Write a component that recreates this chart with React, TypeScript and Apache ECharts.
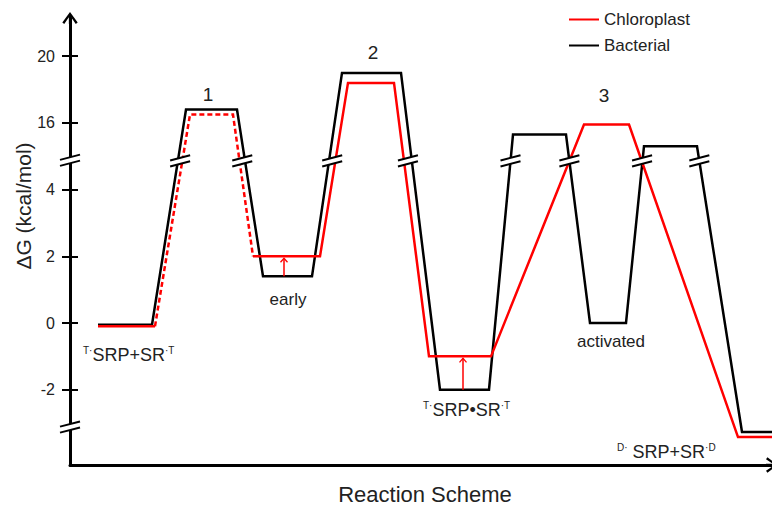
import React, { useEffect, useRef } from 'react';
import * as echarts from 'echarts';

// ---- data (ΔG in kcal/mol, x = reaction coordinate, arbitrary units) ----
const Y_TICKS = [-2, 0, 2, 4, 16, 20];

const BAC_X = [28, 82, 116, 167, 193, 242, 272, 331, 370, 419, 443, 496, 520, 556, 574, 627, 672, 702];
const BAC_V = [-0.05, -0.05, 16.8, 16.8, 1.4, 1.4, 19.0, 19.0, -2.0, -2.0, 15.3, 15.3, 0, 0, 14.6, 14.6, -3.27, -3.27];

const CHL_X = [28, 85, 120, 163, 183, 250, 278, 324, 359, 421, 514, 559, 668, 702];
const CHL_V = [-0.1, -0.1, 16.5, 16.5, 2.0, 2.0, 18.4, 18.4, -1.0, -1.0, 15.9, 15.9, -3.42, -3.42];
const CHL_DASHED_FROM = 1;
const CHL_DASHED_TO = 4;

const ARROW_X = [214, 393];
const ARROW_FROM = [1.4, -2.0];
const ARROW_TO = [2.0, -1.0];

// axis-break levels, in broken-axis units
const BREAK_LINES = 2.43;
const BREAK_AXIS = [2.44, -1.56];

const RED = '#ff0000';
const BLACK = '#000000';
const TEXT = '#222222';
const FONT = 'Liberation Sans, Arial, Helvetica, sans-serif';

// broken axis: [-inf,4] at 2 kcal per unit, [16,inf] at 4 kcal per unit
const toAxis = (v: number) => (v <= 4 ? v / 2 : 3 + (v - 16) / 4);
const fromAxis = (t: number) => (t <= 2 ? t * 2 : 16 + (t - 3) * 4);

function crossings(xs: number[], ts: number[], level: number) {
  const out: number[] = [];
  for (let i = 0; i < xs.length - 1; i++) {
    if ((ts[i] - level) * (ts[i + 1] - level) < 0) {
      out.push(xs[i] + ((xs[i + 1] - xs[i]) * (level - ts[i])) / (ts[i + 1] - ts[i]));
    }
  }
  return out;
}

export default function App() {
  const ref = useRef<HTMLDivElement>(null);
  useEffect(() => {
    if (!ref.current) return;
    const chart = echarts.init(ref.current, undefined, { renderer: 'svg' });

    const bacT = BAC_V.map(toAxis);
    const chlT = CHL_V.map(toAxis);
    const bac = BAC_X.map((x, i) => [x, bacT[i]]);
    const chl = CHL_X.map((x, i) => [x, chlT[i]]);

    const all = [...crossings(BAC_X, bacT, BREAK_LINES), ...crossings(CHL_X, chlT, BREAK_LINES)].sort((a, b) => a - b);
    const clusters: number[][] = [];
    all.forEach((x) => {
      const last = clusters[clusters.length - 1];
      if (last && x - last[last.length - 1] < 12) last.push(x);
      else clusters.push([x]);
    });
    const breakData = clusters.map((c) => [c.reduce((s, v) => s + v, 0) / c.length, BREAK_LINES]);
    BREAK_AXIS.forEach((t) => breakData.push([0, t]));

    const arrowData = ARROW_X.map((x, i) => [x, toAxis(ARROW_FROM[i]), toAxis(ARROW_TO[i])]);

    const tickVals = Y_TICKS.map(toAxis);
    const tMin = (323 - 465) / 66.7;
    const tMax = (323 - 18) / 66.7;

    const lineCommon = {
      type: 'line',
      symbol: 'none',
      silent: true,
      xAxisIndex: 0,
      yAxisIndex: 0,
    };

    const breakItem = (_p: any, api: any) => {
      const p = api.coord([api.value(0), api.value(1)]);
      const L = 10, s = 2.6, g = 3;
      const ln = (o: number) => ({ x1: p[0] - L, y1: p[1] + s + o, x2: p[0] + L, y2: p[1] - s + o });
      return {
        type: 'group',
        children: [
          {
            type: 'polygon',
            shape: { points: [[p[0] - L, p[1] + s - g], [p[0] + L, p[1] - s - g], [p[0] + L, p[1] - s + g], [p[0] - L, p[1] + s + g]] },
            style: { fill: '#ffffff', stroke: null },
          },
          { type: 'line', shape: ln(-g), style: { stroke: BLACK, lineWidth: 2 } },
          { type: 'line', shape: ln(g), style: { stroke: BLACK, lineWidth: 2 } },
        ],
      };
    };

    const arrowItem = (_p: any, api: any) => {
      const a = api.coord([api.value(0), api.value(1)]);
      const b = api.coord([api.value(0), api.value(2)]);
      return {
        type: 'group',
        children: [
          { type: 'line', shape: { x1: a[0], y1: a[1], x2: b[0], y2: b[1] + 2 }, style: { stroke: RED, lineWidth: 1.5 } },
          {
            type: 'polyline',
            shape: { points: [[b[0] - 3.5, b[1] + 6], [b[0], b[1] + 2], [b[0] + 3.5, b[1] + 6]] },
            style: { stroke: RED, lineWidth: 1.3, fill: null },
          },
        ],
      };
    };

    const arrowPath = 'path://M8,0 L16,11 L14,12.5 L9.2,5.5 L9.2,12.5 L6.8,12.5 L6.8,5.5 L2,12.5 L0,11 Z';

    const sup = { fontSize: 10, verticalAlign: 'top', lineHeight: 12, fill: TEXT, fontFamily: FONT };
    const label = (text: string, x: number, y: number, size: number, align = 'center', rich?: any) => ({
      type: 'text',
      x,
      y,
      style: {
        text,
        fill: TEXT,
        fontSize: size,
        fontFamily: FONT,
        align,
        verticalAlign: 'middle',
        rich,
      },
      silent: true,
    });
    const richMain = { m: { fontSize: 18, fontFamily: FONT, fill: TEXT, lineHeight: 20 }, s: sup };

    chart.setOption({
      animation: false,
      backgroundColor: '#ffffff',
      grid: { left: 70, right: 0, top: 18, bottom: 41, containLabel: false },
      legend: {
        data: ['Chloroplast', 'Bacterial'],
        orient: 'vertical',
        left: 563,
        top: 6,
        itemWidth: 30,
        itemHeight: 14,
        itemGap: 9,
        itemStyle: { opacity: 0 },
        textStyle: { fontSize: 17, color: TEXT, fontFamily: FONT },
        selectedMode: false,
      },
      xAxis: {
        type: 'value',
        min: 0,
        max: 702,
        axisLine: {
          show: true,
          onZero: false,
          lineStyle: { color: BLACK, width: 3 },
          symbol: ['none', arrowPath],
          symbolSize: [16, 12],
        },
        axisTick: { show: false },
        axisLabel: { show: false },
        splitLine: { show: false },
      },
      yAxis: [
        {
          type: 'value',
          min: tMin,
          max: tMax,
          axisLine: {
            show: true,
            onZero: false,
            lineStyle: { color: BLACK, width: 3 },
            symbol: ['none', arrowPath],
            symbolSize: [16, 12],
          },
          axisTick: { show: true, length: 8, lineStyle: { color: BLACK, width: 2 }, customValues: tickVals },
          axisLabel: {
            show: true,
            margin: 15,
            fontSize: 16,
            color: TEXT,
            fontFamily: FONT,
            customValues: tickVals,
            formatter: (t: number) => String(Math.round(fromAxis(t))),
          },
          splitLine: { show: false },
        },
        {
          type: 'value',
          min: tMin,
          max: tMax,
          position: 'left',
          axisLine: { show: false, onZero: false },
          axisTick: { show: true, inside: true, length: 8, lineStyle: { color: BLACK, width: 2 }, customValues: tickVals },
          axisLabel: { show: false },
          splitLine: { show: false },
        },
      ],
      series: [
        { ...lineCommon, name: 'Bacterial', data: bac, z: 3, lineStyle: { color: BLACK, width: 2.5, join: 'miter' }, itemStyle: { color: BLACK } },
        { ...lineCommon, name: 'Chloroplast', data: chl.slice(0, CHL_DASHED_FROM + 1), z: 4, lineStyle: { color: RED, width: 2.5, join: 'miter' }, itemStyle: { color: RED } },
        { ...lineCommon, name: 'Chloroplast (dashed)', data: chl.slice(CHL_DASHED_FROM, CHL_DASHED_TO + 1), z: 4, lineStyle: { color: RED, width: 2.5, type: [5, 3], join: 'miter' }, itemStyle: { color: RED } },
        { ...lineCommon, name: 'Chloroplast', data: chl.slice(CHL_DASHED_TO), z: 4, lineStyle: { color: RED, width: 2.5, join: 'miter' }, itemStyle: { color: RED } },
        { type: 'custom', name: 'arrows', renderItem: arrowItem, data: arrowData, encode: { x: 0, y: [1, 2] }, z: 5, silent: true },
        { type: 'custom', name: 'breaks', renderItem: breakItem, data: breakData, encode: { x: 0, y: 1 }, z: 10, silent: true, clip: false },
      ],
      graphic: [
        label('1', 208, 94, 19),
        label('2', 373, 52, 19),
        label('3', 604, 95, 19),
        label('{s|T·}{m|SRP+SR}{s|·T}', 83, 355, 18, 'left', richMain),
        label('early', 288, 299, 17),
        label('{s|T·}{m|SRP•SR}{s|·T}', 423, 410, 18, 'left', richMain),
        label('activated', 611, 341, 17),
        label('{s|D·} {m|SRP+SR}{s|·D}', 617, 452, 18, 'left', richMain),
        label('Reaction Scheme', 425, 494, 22),
        {
          type: 'text',
          x: 23,
          y: 206,
          rotation: Math.PI / 2,
          style: { text: 'ΔG (kcal/mol)', fill: TEXT, fontSize: 21, fontFamily: FONT, align: 'center', verticalAlign: 'middle' },
          silent: true,
        },
      ],
    });
    return () => chart.dispose();
  }, []);
  return <div ref={ref} style={{ position: 'fixed', left: 0, top: 0, width: 772, height: 506 }} />;
}
